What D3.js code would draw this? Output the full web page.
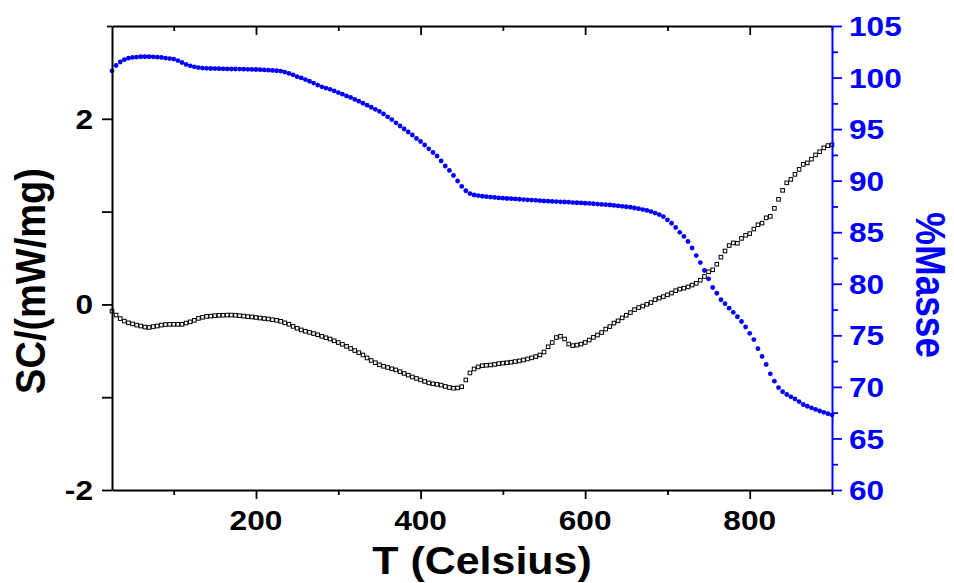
<!DOCTYPE html>
<html><head><meta charset="utf-8">
<script src="https://cdn.jsdelivr.net/npm/d3@7"></script>
<style>
html,body{margin:0;padding:0;background:#fff;}
svg{display:block;}
text{font-family:"Liberation Sans",Arial,sans-serif;font-weight:bold;}
</style></head><body>
<svg id="chart" width="954" height="583"></svg>
<script>
// ---------- DATA ----------
const temperature = [
25,30,35,40,45,50,55,60,65,70,
75,80,85,90,95,100,105,110,115,120,
125,130,135,140,145,150,155,160,165,170,
175,180,185,190,195,200,205,210,215,220,
225,230,235,240,245,250,255,260,265,270,
275,280,285,290,295,300,305,310,315,320,
325,330,335,340,345,350,355,360,365,370,
375,380,385,390,395,400,405,410,415,420,
425,430,435,440,445,450,455,460,465,470,
475,480,485,490,495,500,505,510,515,520,
525,530,535,540,545,550,555,560,565,570,
575,580,585,590,595,600,605,610,615,620,
625,630,635,640,645,650,655,660,665,670,
675,680,685,690,695,700,705,710,715,720,
725,730,735,740,745,750,755,760,765,770,
775,780,785,790,795,800,805,810,815,820,
825,830,835,840,845,850,855,860,865,870,
875,880,885,890,895,900];

const dscValues = [
-0.072,-0.115,-0.153,-0.180,-0.198,-0.210,-0.223,-0.233,-0.244,-0.249,
-0.239,-0.233,-0.223,-0.217,-0.215,-0.215,-0.215,-0.215,-0.201,-0.188,
-0.172,-0.151,-0.139,-0.129,-0.126,-0.122,-0.118,-0.117,-0.115,-0.115,
-0.117,-0.122,-0.126,-0.132,-0.135,-0.141,-0.147,-0.152,-0.157,-0.165,
-0.172,-0.182,-0.198,-0.214,-0.237,-0.257,-0.275,-0.289,-0.301,-0.314,
-0.327,-0.344,-0.359,-0.373,-0.392,-0.411,-0.430,-0.452,-0.475,-0.497,
-0.520,-0.545,-0.577,-0.604,-0.628,-0.651,-0.667,-0.680,-0.694,-0.706,
-0.725,-0.744,-0.762,-0.782,-0.798,-0.814,-0.830,-0.846,-0.855,-0.862,
-0.870,-0.884,-0.895,-0.903,-0.900,-0.887,-0.814,-0.739,-0.696,-0.674,
-0.660,-0.656,-0.653,-0.647,-0.638,-0.633,-0.629,-0.623,-0.616,-0.609,
-0.599,-0.588,-0.576,-0.562,-0.545,-0.513,-0.457,-0.411,-0.357,-0.343,
-0.373,-0.427,-0.444,-0.438,-0.427,-0.410,-0.384,-0.355,-0.330,-0.303,
-0.266,-0.239,-0.201,-0.177,-0.145,-0.117,-0.088,-0.056,-0.034,-0.018,
0.001,0.020,0.051,0.068,0.084,0.103,0.122,0.148,0.165,0.175,
0.189,0.208,0.227,0.261,0.301,0.352,0.373,0.433,0.509,0.576,
0.634,0.663,0.659,0.711,0.745,0.763,0.812,0.858,0.876,0.933,
0.949,1.035,1.132,1.229,1.310,1.347,1.401,1.455,1.509,1.525,
1.565,1.611,1.645,1.687,1.711,1.719];

const massValues = [
100.64,101.17,101.51,101.73,101.88,101.95,101.99,102.02,102.02,102.02,
102.01,101.98,101.95,101.89,101.84,101.79,101.65,101.46,101.27,101.14,
101.04,100.97,100.92,100.90,100.88,100.87,100.86,100.85,100.84,100.83,
100.83,100.82,100.81,100.80,100.79,100.78,100.76,100.74,100.72,100.69,
100.66,100.63,100.53,100.40,100.26,100.09,99.96,99.80,99.64,99.46,
99.27,99.10,98.98,98.86,98.70,98.54,98.39,98.22,98.07,97.88,
97.71,97.51,97.32,97.12,96.92,96.72,96.47,96.19,95.92,95.61,
95.30,95.01,94.72,94.43,94.09,93.80,93.46,93.09,92.73,92.39,
91.91,91.42,90.99,90.50,89.97,89.44,89.02,88.75,88.61,88.55,
88.49,88.45,88.41,88.37,88.33,88.30,88.27,88.25,88.23,88.20,
88.17,88.14,88.12,88.09,88.06,88.03,88.01,87.99,87.97,87.95,
87.93,87.91,87.88,87.86,87.84,87.81,87.79,87.76,87.73,87.70,
87.67,87.64,87.60,87.56,87.51,87.47,87.42,87.35,87.28,87.20,
87.11,87.00,86.86,86.71,86.52,86.20,85.87,85.46,84.99,84.59,
84.10,83.47,82.74,82.06,81.29,80.48,79.64,79.08,78.45,78.07,
77.63,77.23,76.80,76.34,75.81,75.19,74.59,73.71,72.95,72.17,
71.27,70.55,69.93,69.53,69.26,69.04,68.83,68.58,68.29,68.12,
67.97,67.81,67.66,67.53,67.40,67.27];

const xMajorTicks = [200,400,600,800];
const xMinorTicks = [100,300,500,700,900];
const dscTicks = [-2,-1,0,1,2];
const dscTopTick = [3];
const dscLabelTicks = [-2,0,2];
const dscLabels = ["-2","0","2"];
const massMajorTicks = [60,65,70,75,80,85,90,95,100,105];
const massMinorTicks = [62.5,67.5,72.5,77.5,82.5,87.5,92.5,97.5,102.5];
const massLabels = ["60","65","70","75","80","85","90","95","100","105"];
const xTitle = "T (Celsius)";
const yLeftTitle = "SC/(mW/mg)";
const yRightTitle = "%Masse";

// ---------- LAYOUT ----------
const L = 112, R = 832, T = 26, B = 490;
const STRETCH = 1.13;
const blue = "#0000ff";
const svg = d3.select("#chart");

const x = d3.scaleLinear().domain([25, 900]).range([L, R]);
const yL = d3.scaleLinear().domain([-2, 3]).range([B, T]);
const yR = d3.scaleLinear().domain([60, 105]).range([B, T]);

// ---------- MARKS ----------
svg.append("g").selectAll("circle").data(temperature).join("circle")
  .attr("cx", d => x(d))
  .attr("cy", (d, i) => yR(massValues[i]))
  .attr("r", 2.4)
  .attr("fill", blue);

svg.append("g").selectAll("rect").data(temperature).join("rect")
  .attr("x", d => x(d) - 1.8)
  .attr("y", (d, i) => yL(dscValues[i]) - 1.8)
  .attr("width", 3.6).attr("height", 3.6)
  .attr("fill", "none").attr("stroke", "#000").attr("stroke-width", 1);

// ---------- AXES ----------
function styleAxis(g, color, keepDomain) {
  g.selectAll("text").remove();
  if (!keepDomain) g.select(".domain").remove();
  g.select(".domain").attr("stroke", color).attr("stroke-width", 2);
  g.selectAll(".tick line").attr("stroke", color).attr("stroke-width", 1.8);
}

// bottom
svg.append("g").attr("transform", `translate(0,${B})`)
  .call(d3.axisBottom(x).tickValues(xMajorTicks).tickSize(9).tickSizeOuter(0))
  .call(styleAxis, "#000", true);
svg.append("g").attr("transform", `translate(0,${B})`)
  .call(d3.axisBottom(x).tickValues(xMinorTicks).tickSize(5).tickSizeOuter(0))
  .call(styleAxis, "#000", false);
// top (mirror, inward ticks)
svg.append("g").attr("transform", `translate(0,${T})`)
  .call(d3.axisTop(x).tickValues(xMajorTicks).tickSize(-9).tickSizeOuter(0))
  .call(styleAxis, "#000", true);
svg.append("g").attr("transform", `translate(0,${T})`)
  .call(d3.axisTop(x).tickValues(xMinorTicks).tickSize(-5).tickSizeOuter(0))
  .call(styleAxis, "#000", false);
// left
svg.append("g").attr("transform", `translate(${L},0)`)
  .call(d3.axisLeft(yL).tickValues(dscTicks).tickSize(10).tickSizeOuter(0))
  .call(styleAxis, "#000", true);
svg.append("g").attr("transform", `translate(${L},0)`)
  .call(d3.axisLeft(yL).tickValues(dscTopTick).tickSize(5).tickSizeOuter(0))
  .call(styleAxis, "#000", false);
// right (blue)
svg.append("g").attr("transform", `translate(${R},0)`)
  .call(d3.axisRight(yR).tickValues(massMajorTicks).tickSize(10).tickSizeOuter(0))
  .call(styleAxis, blue, true);
svg.append("g").attr("transform", `translate(${R},0)`)
  .call(d3.axisRight(yR).tickValues(massMinorTicks).tickSize(6).tickSizeOuter(0))
  .call(styleAxis, blue, false);

// ---------- TICK LABELS ----------
svg.append("g").selectAll("text").data(xMajorTicks).join("text")
  .attr("transform", d => `translate(${x(d)},530) scale(${STRETCH},1)`)
  .attr("text-anchor", "middle").attr("font-size", 28).attr("fill", "#000")
  .text(d => String(d));

svg.append("g").selectAll("text").data(dscLabelTicks).join("text")
  .attr("transform", d => `translate(93,${yL(d)}) scale(${STRETCH},1)`)
  .attr("text-anchor", "end").attr("dy", "0.36em").attr("font-size", 28).attr("fill", "#000")
  .text((d, i) => dscLabels[i]);

svg.append("g").selectAll("text").data(massMajorTicks).join("text")
  .attr("transform", d => `translate(849,${yR(d)}) scale(${STRETCH},1)`)
  .attr("text-anchor", "start").attr("dy", "0.36em").attr("font-size", 28).attr("fill", blue)
  .text((d, i) => massLabels[i]);

// ---------- TITLES ----------
svg.append("text")
  .attr("transform", `translate(482,574) scale(${STRETCH},1)`)
  .attr("text-anchor", "middle").attr("font-size", 38).attr("fill", "#000")
  .text(xTitle);

svg.append("text")
  .attr("transform", `translate(45,281) rotate(-90) scale(1,${STRETCH})`)
  .attr("text-anchor", "middle").attr("font-size", 38).attr("fill", "#000")
  .text(yLeftTitle);

svg.append("text")
  .attr("transform", `translate(916,285) rotate(90) scale(1,${STRETCH})`)
  .attr("text-anchor", "middle").attr("font-size", 37).attr("fill", blue)
  .text(yRightTitle);
</script>
</body></html>
